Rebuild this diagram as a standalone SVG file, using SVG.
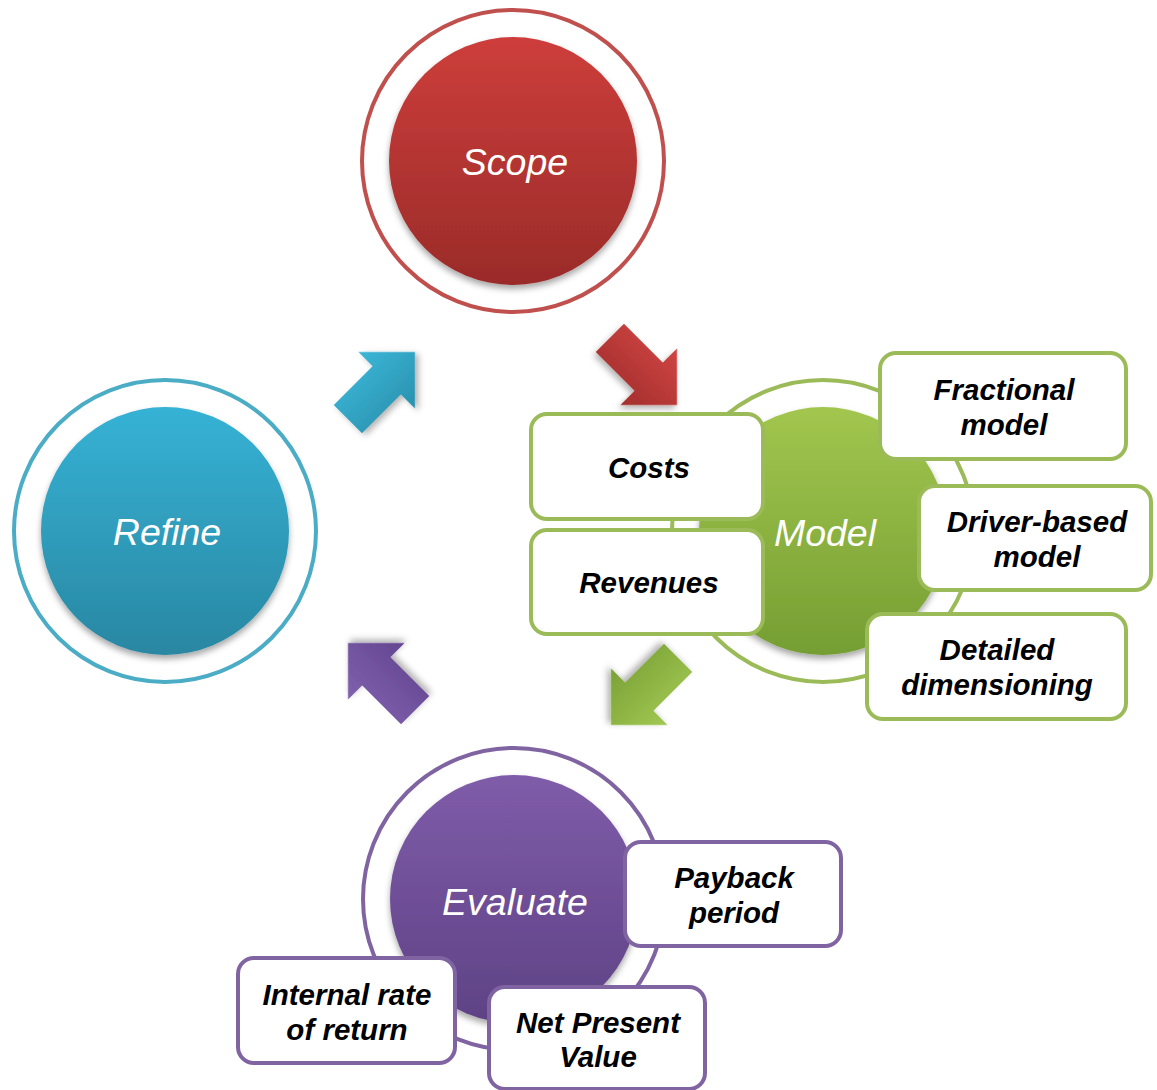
<svg xmlns="http://www.w3.org/2000/svg" xmlns:xlink="http://www.w3.org/1999/xlink" width="1157" height="1090" viewBox="0 0 1157 1090">
  <defs>
    <style>
      .ring { fill: #ffffff; stroke-width: 4; }
      .core { filter: url(#soft); }
      .title { font-family: "Liberation Sans", Arial, sans-serif; font-style: italic; font-size: 37.5px; fill: #ffffff; text-anchor: middle; }
      .box { fill: #ffffff; stroke-width: 4; }
      .green { stroke: #9bbb59; }
      .purple { stroke: #8064a2; }
      .lbl { font-family: "Liberation Sans", Arial, sans-serif; font-style: italic; font-weight: bold; font-size: 29.5px; fill: #000000; text-anchor: middle; }
      .arrow { filter: url(#drop); }
    </style>
    <filter id="soft" x="-20%" y="-20%" width="140%" height="140%">
      <feDropShadow dx="0" dy="4" stdDeviation="3" flood-color="#000" flood-opacity="0.35"/>
    </filter>
    <filter id="drop" x="-30%" y="-30%" width="160%" height="160%">
      <feDropShadow dx="1" dy="4" stdDeviation="3" flood-color="#000" flood-opacity="0.3"/>
    </filter>
    <linearGradient id="cRed" x1="0" y1="0" x2="0" y2="1">
      <stop offset="0" stop-color="#cd3e3b"/>
      <stop offset="1" stop-color="#9a2b29"/>
    </linearGradient>
    <linearGradient id="cBlue" x1="0" y1="0" x2="0" y2="1">
      <stop offset="0" stop-color="#36b2d5"/>
      <stop offset="1" stop-color="#2987a2"/>
    </linearGradient>
    <linearGradient id="cGreen" x1="0" y1="0" x2="0" y2="1">
      <stop offset="0" stop-color="#a2c64e"/>
      <stop offset="1" stop-color="#759e33"/>
    </linearGradient>
    <linearGradient id="cPurple" x1="0" y1="0" x2="0" y2="1">
      <stop offset="0" stop-color="#7f5ca9"/>
      <stop offset="1" stop-color="#5e4285"/>
    </linearGradient>
    <linearGradient id="aRed" x1="0" y1="0" x2="0" y2="1">
      <stop offset="0" stop-color="#d04543"/>
      <stop offset="1" stop-color="#a22e2c"/>
    </linearGradient>
    <linearGradient id="aBlue" x1="0" y1="0" x2="0" y2="1">
      <stop offset="0" stop-color="#3cb6d7"/>
      <stop offset="1" stop-color="#2991ae"/>
    </linearGradient>
    <linearGradient id="aGreen" x1="0" y1="0" x2="0" y2="1">
      <stop offset="0" stop-color="#a2c852"/>
      <stop offset="1" stop-color="#7aa136"/>
    </linearGradient>
    <linearGradient id="aPurple" x1="0" y1="0" x2="0" y2="1">
      <stop offset="0" stop-color="#8061ae"/>
      <stop offset="1" stop-color="#634590"/>
    </linearGradient>
    <!-- block arrow, tip at origin, pointing along +x -->
    <polygon id="arrowShape" points="0,0 -40,40 -40,20 -95,20 -95,-20 -40,-20 -40,-40"/>
  </defs>

  <rect width="1157" height="1090" fill="#ffffff"/>

  <!-- cycle arrows -->
  <g id="connectors">
    <use class="arrow" xlink:href="#arrowShape" href="#arrowShape" fill="url(#aRed)" transform="translate(677,405) rotate(45)"/>
    <use class="arrow" xlink:href="#arrowShape" href="#arrowShape" fill="url(#aGreen)" transform="translate(611,725) rotate(135)"/>
    <use class="arrow" xlink:href="#arrowShape" href="#arrowShape" fill="url(#aPurple)" transform="translate(348,643) rotate(225)"/>
    <use class="arrow" xlink:href="#arrowShape" href="#arrowShape" fill="url(#aBlue)" transform="translate(415,352) rotate(-45)"/>
  </g>

  <g id="scope">
    <circle class="ring" cx="513" cy="161" r="151" stroke="#c0504d"/>
    <circle class="core" cx="513" cy="161" r="124" fill="url(#cRed)"/>
    <text class="title" x="515" y="175">Scope</text>
  </g>

  <g id="refine">
    <circle class="ring" cx="165" cy="531" r="151" stroke="#4bacc6"/>
    <circle class="core" cx="165" cy="531" r="124" fill="url(#cBlue)"/>
    <text class="title" x="167" y="545">Refine</text>
  </g>

  <g id="model">
    <circle class="ring" cx="823" cy="531" r="151" stroke="#9bbb59"/>
    <circle class="core" cx="823" cy="531" r="124" fill="url(#cGreen)"/>
    <text class="title" x="825" y="546">Model</text>
  </g>

  <g id="evaluate">
    <circle class="ring" cx="514" cy="899" r="151" stroke="#8064a2"/>
    <circle class="core" cx="514" cy="899" r="124" fill="url(#cPurple)"/>
    <text class="title" x="515" y="915">Evaluate</text>
  </g>

  <g id="costs">
    <rect class="box green" x="531" y="414" width="232" height="105" rx="16"/>
    <text class="lbl" x="649" y="478">Costs</text>
  </g>

  <g id="revenues">
    <rect class="box green" x="531" y="530" width="232" height="104" rx="16"/>
    <text class="lbl" x="649" y="593">Revenues</text>
  </g>

  <g id="fractional-model">
    <rect class="box green" x="880" y="353" width="246" height="106" rx="16"/>
    <text class="lbl" x="1004" y="400">Fractional</text>
    <text class="lbl" x="1004" y="435">model</text>
  </g>

  <g id="driver-based-model">
    <rect class="box green" x="919" y="486" width="232" height="104" rx="16"/>
    <text class="lbl" x="1037" y="532">Driver-based</text>
    <text class="lbl" x="1037" y="567">model</text>
  </g>

  <g id="detailed-dimensioning">
    <rect class="box green" x="867" y="614" width="259" height="105" rx="16"/>
    <text class="lbl" x="997" y="660">Detailed</text>
    <text class="lbl" x="997" y="695">dimensioning</text>
  </g>

  <g id="payback-period">
    <rect class="box purple" x="625" y="842" width="216" height="104" rx="16"/>
    <text class="lbl" x="734" y="888">Payback</text>
    <text class="lbl" x="734" y="923">period</text>
  </g>

  <g id="internal-rate-of-return">
    <rect class="box purple" x="238" y="958" width="217" height="105" rx="16"/>
    <text class="lbl" x="347" y="1005">Internal rate</text>
    <text class="lbl" x="347" y="1040">of return</text>
  </g>

  <g id="net-present-value">
    <rect class="box purple" x="489" y="987" width="216" height="102" rx="16"/>
    <text class="lbl" x="598" y="1033">Net Present</text>
    <text class="lbl" x="598" y="1067">Value</text>
  </g>
</svg>
